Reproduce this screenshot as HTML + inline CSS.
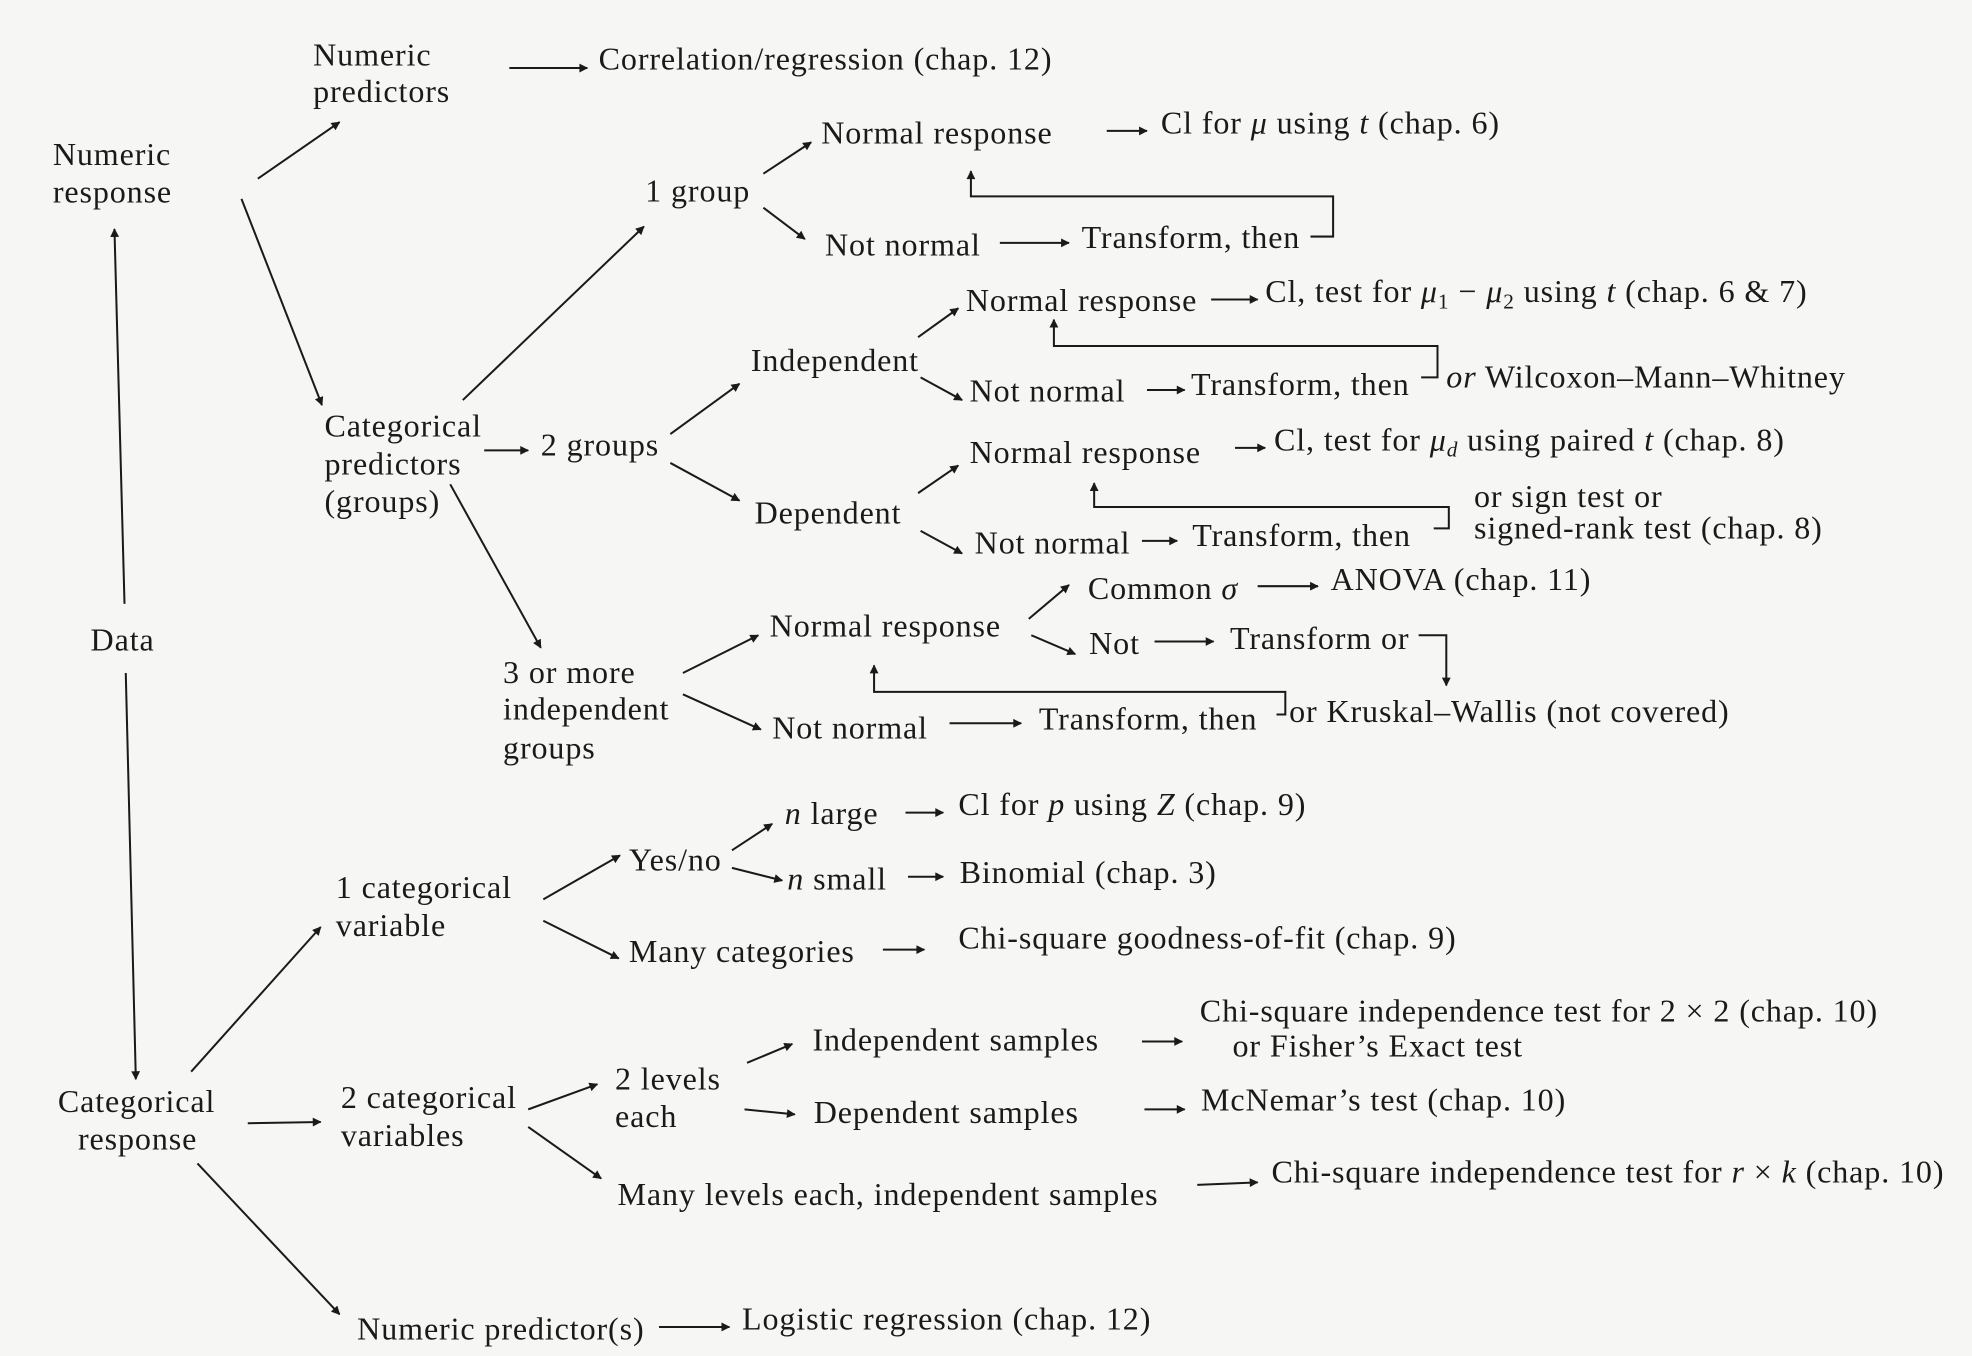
<!DOCTYPE html>
<html><head><meta charset="utf-8"><style>
html,body{margin:0;padding:0;background:#f6f6f4;}
svg{display:block}
text{font-family:"Liberation Serif",serif;font-size:25.5px;letter-spacing:0.7px;fill:#1a1a1a}
.l{stroke:#1a1a1a;stroke-width:1.6;fill:none}
</style></head><body>
<svg width="1972" height="1356" viewBox="0 0 1568 1078" xmlns="http://www.w3.org/2000/svg">
<defs><marker id="a" viewBox="0 0 10 10" refX="9" refY="5" markerWidth="9" markerHeight="7" orient="auto" markerUnits="userSpaceOnUse"><path d="M0,0 L10,5 L0,10 z" fill="#1a1a1a"/></marker></defs>
<g class="l" marker-end="url(#a)">
<line x1="405" y1="54" x2="467" y2="54"/>
<line x1="205" y1="142" x2="270" y2="97"/>
<line x1="192" y1="158" x2="256" y2="322"/>
<line x1="607" y1="138" x2="645" y2="113"/>
<line x1="880" y1="104" x2="912" y2="104"/>
<line x1="607" y1="165" x2="640" y2="190"/>
<line x1="795" y1="193" x2="850" y2="193"/>
<path d="M1042,188 H1060 V156 H772 V136"/>
<line x1="368" y1="318" x2="512" y2="180"/>
<line x1="385" y1="358" x2="420" y2="358"/>
<line x1="533" y1="345" x2="588" y2="305"/>
<line x1="533" y1="368" x2="588" y2="398"/>
<line x1="730" y1="268" x2="762" y2="245"/>
<line x1="963" y1="238" x2="1000" y2="238"/>
<line x1="732" y1="300" x2="765" y2="318"/>
<line x1="912" y1="310" x2="942" y2="310"/>
<path d="M1130,300 H1143 V275 H838 V254"/>
<line x1="730" y1="392" x2="762" y2="370"/>
<line x1="982" y1="356" x2="1006" y2="356"/>
<line x1="732" y1="422" x2="765" y2="440"/>
<line x1="908" y1="430" x2="936" y2="430"/>
<path d="M1140,420 H1152 V403 H870 V384"/>
<line x1="358" y1="385" x2="430" y2="515"/>
<line x1="543" y1="535" x2="603" y2="505"/>
<line x1="543" y1="552" x2="605" y2="580"/>
<line x1="818" y1="492" x2="850" y2="465"/>
<line x1="1000" y1="466" x2="1048" y2="466"/>
<line x1="820" y1="505" x2="855" y2="520"/>
<line x1="918" y1="510" x2="965" y2="510"/>
<path d="M1128,505 H1150 V545"/>
<line x1="755" y1="575" x2="812" y2="575"/>
<path d="M1015,568 H1022 V550 H695 V529"/>
<line x1="99" y1="480" x2="91" y2="182"/>
<line x1="100" y1="535" x2="108" y2="858"/>
<line x1="152" y1="852" x2="255" y2="737"/>
<line x1="432" y1="715" x2="493" y2="680"/>
<line x1="582" y1="676" x2="614" y2="655"/>
<line x1="720" y1="646" x2="750" y2="646"/>
<line x1="582" y1="690" x2="622" y2="700"/>
<line x1="722" y1="697" x2="750" y2="697"/>
<line x1="432" y1="732" x2="492" y2="762"/>
<line x1="702" y1="755" x2="735" y2="755"/>
<line x1="197" y1="893" x2="255" y2="892"/>
<line x1="420" y1="882" x2="475" y2="862"/>
<line x1="594" y1="845" x2="630" y2="830"/>
<line x1="908" y1="828" x2="940" y2="828"/>
<line x1="592" y1="882" x2="632" y2="886"/>
<line x1="910" y1="882" x2="942" y2="882"/>
<line x1="420" y1="896" x2="478" y2="937"/>
<line x1="952" y1="942" x2="1000" y2="940"/>
<line x1="157" y1="925" x2="270" y2="1045"/>
<line x1="524" y1="1055" x2="580" y2="1055"/>
</g>
<text x="249" y="52">Numeric</text><text x="249" y="81">predictors</text>
<text x="476" y="55">Correlation/regression (chap. 12)</text>
<text x="42" y="131">Numeric</text><text x="42" y="161">response</text>
<text x="513" y="160">1 group</text>
<text x="653" y="114">Normal response</text>
<text x="923" y="106">Cl for <tspan font-style="italic">μ</tspan> using <tspan font-style="italic">t</tspan> (chap. 6)</text>
<text x="656" y="203">Not normal</text>
<text x="860" y="197">Transform, then</text>
<text x="258" y="347">Categorical</text><text x="258" y="377">predictors</text><text x="258" y="407">(groups)</text>
<text x="430" y="362">2 groups</text>
<text x="597" y="295">Independent</text>
<text x="600" y="416">Dependent</text>
<text x="768" y="247">Normal response</text>
<text x="1006" y="240">Cl, test for <tspan font-style="italic">μ</tspan><tspan font-size="17" dy="5">1</tspan><tspan dy="-5"> − </tspan><tspan font-style="italic">μ</tspan><tspan font-size="17" dy="5">2</tspan><tspan dy="-5"> using </tspan><tspan font-style="italic">t</tspan> (chap. 6 &amp; 7)</text>
<text x="771" y="319">Not normal</text>
<text x="947" y="314">Transform, then</text>
<text x="1150" y="308"><tspan font-style="italic">or</tspan>  Wilcoxon–Mann–Whitney</text>
<text x="771" y="368">Normal response</text>
<text x="1013" y="358">Cl, test for <tspan font-style="italic">μ</tspan><tspan font-size="17" dy="5" font-style="italic">d</tspan><tspan dy="-5"> using paired </tspan><tspan font-style="italic">t</tspan> (chap. 8)</text>
<text x="775" y="440">Not normal</text>
<text x="948" y="434">Transform, then</text>
<text x="1172" y="403">or  sign test or</text>
<text x="1172" y="428">signed-rank test (chap. 8)</text>
<text x="400" y="543">3 or more</text><text x="400" y="572">independent</text><text x="400" y="603">groups</text>
<text x="612" y="506">Normal response</text>
<text x="614" y="587">Not normal</text>
<text x="865" y="476">Common <tspan font-style="italic">σ</tspan></text>
<text x="1058" y="469">ANOVA (chap. 11)</text>
<text x="866" y="520">Not</text>
<text x="978" y="516">Transform or</text>
<text x="826" y="580">Transform, then</text>
<text x="1025" y="574">or Kruskal–Wallis (not covered)</text>
<text x="72" y="517">Data</text>
<text x="46" y="884">Categorical</text><text x="62" y="914">response</text>
<text x="267" y="714">1 categorical</text><text x="267" y="744">variable</text>
<text x="500" y="692">Yes/no</text>
<text x="624" y="655"><tspan font-style="italic">n</tspan> large</text>
<text x="762" y="648">Cl for <tspan font-style="italic">p</tspan> using <tspan font-style="italic">Z</tspan> (chap. 9)</text>
<text x="626" y="707"><tspan font-style="italic">n</tspan> small</text>
<text x="763" y="702">Binomial (chap. 3)</text>
<text x="500" y="765">Many categories</text>
<text x="762" y="754">Chi-square goodness-of-fit (chap. 9)</text>
<text x="271" y="881">2 categorical</text><text x="271" y="911">variables</text>
<text x="489" y="866">2 levels</text><text x="489" y="896">each</text>
<text x="646" y="835">Independent samples</text>
<text x="954" y="812">Chi-square independence test for 2 × 2 (chap. 10)</text>
<text x="980" y="840">or Fisher’s Exact test</text>
<text x="647" y="893">Dependent samples</text>
<text x="955" y="883">McNemar’s test (chap. 10)</text>
<text x="491" y="958">Many levels each, independent samples</text>
<text x="1011" y="940">Chi-square independence test for <tspan font-style="italic">r</tspan> × <tspan font-style="italic">k</tspan> (chap. 10)</text>
<text x="284" y="1065">Numeric predictor(s)</text>
<text x="590" y="1057">Logistic regression (chap. 12)</text>
</svg>
</body></html>
